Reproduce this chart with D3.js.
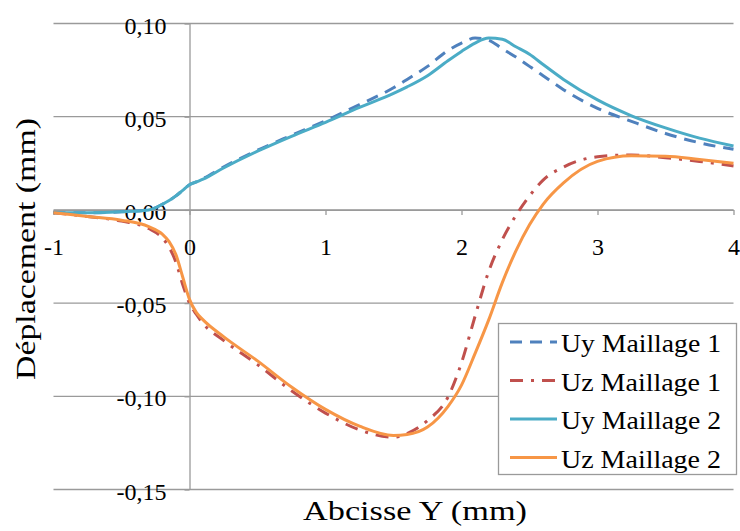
<!DOCTYPE html>
<html>
<head>
<meta charset="utf-8">
<script src="https://cdn.jsdelivr.net/npm/d3@7"></script>
<style>
  html, body { margin: 0; padding: 0; background: #fff; }
  svg { display: block; }
</style>
</head>
<body>
<svg id="chart" width="740" height="531"></svg>
<script>
// ---- Data ----
const xs = [-1, -0.75, -0.5, -0.3, -0.2, -0.15, -0.1, -0.05, 0, 0.05, 0.1, 0.25, 0.5, 0.75, 1, 1.25, 1.5, 1.6, 1.75, 1.9, 2, 2.1, 2.2, 2.3, 2.4, 2.5, 2.6, 2.75, 3, 3.25, 3.5, 3.75, 4];

const uyMaillage1 = [-0.0015, -0.0015, -0.001, 0.0, 0.003, 0.005, 0.0075, 0.0105, 0.0135, 0.015, 0.0168, 0.023, 0.032, 0.040, 0.0478, 0.0565, 0.0655, 0.070, 0.077, 0.0855, 0.0895, 0.0922, 0.091, 0.0865, 0.082, 0.077, 0.072, 0.0645, 0.0545, 0.0475, 0.041, 0.036, 0.0325];
const uzMaillage1 = [-0.0015, -0.0035, -0.006, -0.010, -0.015, -0.020, -0.028, -0.040, -0.050, -0.056, -0.061, -0.070, -0.083, -0.097, -0.109, -0.118, -0.122, -0.120, -0.113, -0.1005, -0.082, -0.057, -0.033, -0.016, -0.003, 0.0075, 0.016, 0.023, 0.0285, 0.0295, 0.028, 0.026, 0.0236];
const uyMaillage2 = [-0.0015, -0.0015, -0.001, 0.0, 0.003, 0.005, 0.0075, 0.0105, 0.0135, 0.015, 0.0165, 0.0225, 0.0315, 0.0395, 0.047, 0.055, 0.0625, 0.066, 0.072, 0.080, 0.085, 0.0895, 0.0922, 0.0915, 0.0875, 0.0835, 0.078, 0.070, 0.059, 0.0505, 0.044, 0.0385, 0.0343];
const uzMaillage2 = [-0.0015, -0.0035, -0.0055, -0.009, -0.013, -0.017, -0.024, -0.036, -0.048, -0.055, -0.059, -0.068, -0.081, -0.095, -0.107, -0.116, -0.121, -0.1205, -0.1165, -0.1055, -0.094, -0.077, -0.059, -0.039, -0.022, -0.008, 0.003, 0.0145, 0.026, 0.029, 0.0288, 0.027, 0.025];

const seriesNames = ["Uy Maillage 1", "Uz Maillage 1", "Uy Maillage 2", "Uz Maillage 2"];
const seriesColors = ["#4F81BD", "#C0504D", "#4BACC6", "#F79646"];
const seriesDashes = ["12,8", "13,8,3,8", null, null];
const xTicks = [-1, 0, 1, 2, 3, 4];
const yTicks = [-0.15, -0.10, -0.05, 0.00, 0.05, 0.10];
const xTitle = "Abcisse Y (mm)";
const yTitle = "Déplacement (mm)";

// ---- Chart ----
const fontStack = "'Liberation Serif', 'DejaVu Serif', 'Times New Roman', serif";
const svg = d3.select("#chart");
const x = d3.scaleLinear().domain([-1, 4]).range([53.5, 733.5]);
const y = d3.scaleLinear().domain([-0.15, 0.10]).range([489.5, 23.5]);
const gridColor = "#9a9a9a";

svg.append("g").selectAll("line").data(yTicks).join("line")
  .attr("x1", x(-1)).attr("x2", x(4))
  .attr("y1", d => y(d)).attr("y2", d => y(d))
  .attr("stroke", gridColor).attr("stroke-width", 1.3);

const fmtY = d => d3.format(".2f")(d).replace("−", "-").replace(".", ",");

const yAxis = svg.append("g")
  .attr("transform", `translate(${x(0)},0)`)
  .call(d3.axisLeft(y).tickValues(yTicks).tickSize(5).tickSizeOuter(0).tickPadding(18).tickFormat(fmtY));
const xAxis = svg.append("g")
  .attr("transform", `translate(0,${y(0)})`)
  .call(d3.axisBottom(x).tickValues(xTicks).tickSize(5).tickSizeOuter(0).tickPadding(23).tickFormat(d => String(d)));

[yAxis, xAxis].forEach(g => {
  g.attr("font-family", fontStack);
  g.selectAll(".domain").attr("stroke", gridColor).attr("stroke-width", 1.3);
  g.selectAll(".tick line").attr("stroke", gridColor).attr("stroke-width", 1.3);
  g.selectAll("text").attr("fill", "#000").attr("font-size", 24);
});
yAxis.selectAll("text").attr("dy", "0.4em");

const allSeries = [uyMaillage1, uzMaillage1, uyMaillage2, uzMaillage2];
const line = d3.line().x(d => x(d[0])).y(d => y(d[1])).curve(d3.curveMonotoneX);
[0, 1, 2, 3].forEach(i => {
  const pts = xs.map((xv, k) => [xv, allSeries[i][k]]);
  const p = svg.append("path").datum(pts)
    .attr("d", line)
    .attr("fill", "none")
    .attr("stroke", seriesColors[i])
    .attr("stroke-width", 3);
  if (seriesDashes[i]) p.attr("stroke-dasharray", seriesDashes[i]);
});

const lg = svg.append("g");
lg.append("rect").attr("x", 498.5).attr("y", 323.5).attr("width", 238).attr("height", 151)
  .attr("fill", "#fff").attr("stroke", gridColor).attr("stroke-width", 1.3);
const rowY = [342, 380.5, 419, 457.5];
seriesNames.forEach((name, i) => {
  const l = lg.append("line").attr("x1", 510).attr("x2", 557)
    .attr("y1", rowY[i]).attr("y2", rowY[i])
    .attr("stroke", seriesColors[i]).attr("stroke-width", 3);
  if (seriesDashes[i]) l.attr("stroke-dasharray", seriesDashes[i]);
  lg.append("text").attr("x", 561).attr("y", rowY[i] + 10)
    .attr("font-family", fontStack).attr("font-size", 25)
    .attr("textLength", 160).attr("lengthAdjust", "spacingAndGlyphs")
    .text(name);
});

svg.append("text").attr("x", 415).attr("y", 520).attr("text-anchor", "middle")
  .attr("font-family", fontStack).attr("font-size", 28)
  .attr("textLength", 224).attr("lengthAdjust", "spacingAndGlyphs")
  .text(xTitle);
svg.append("text").attr("transform", "translate(35,249) rotate(-90)").attr("text-anchor", "middle")
  .attr("font-family", fontStack).attr("font-size", 28)
  .attr("textLength", 262).attr("lengthAdjust", "spacingAndGlyphs")
  .text(yTitle);
</script>
</body>
</html>
